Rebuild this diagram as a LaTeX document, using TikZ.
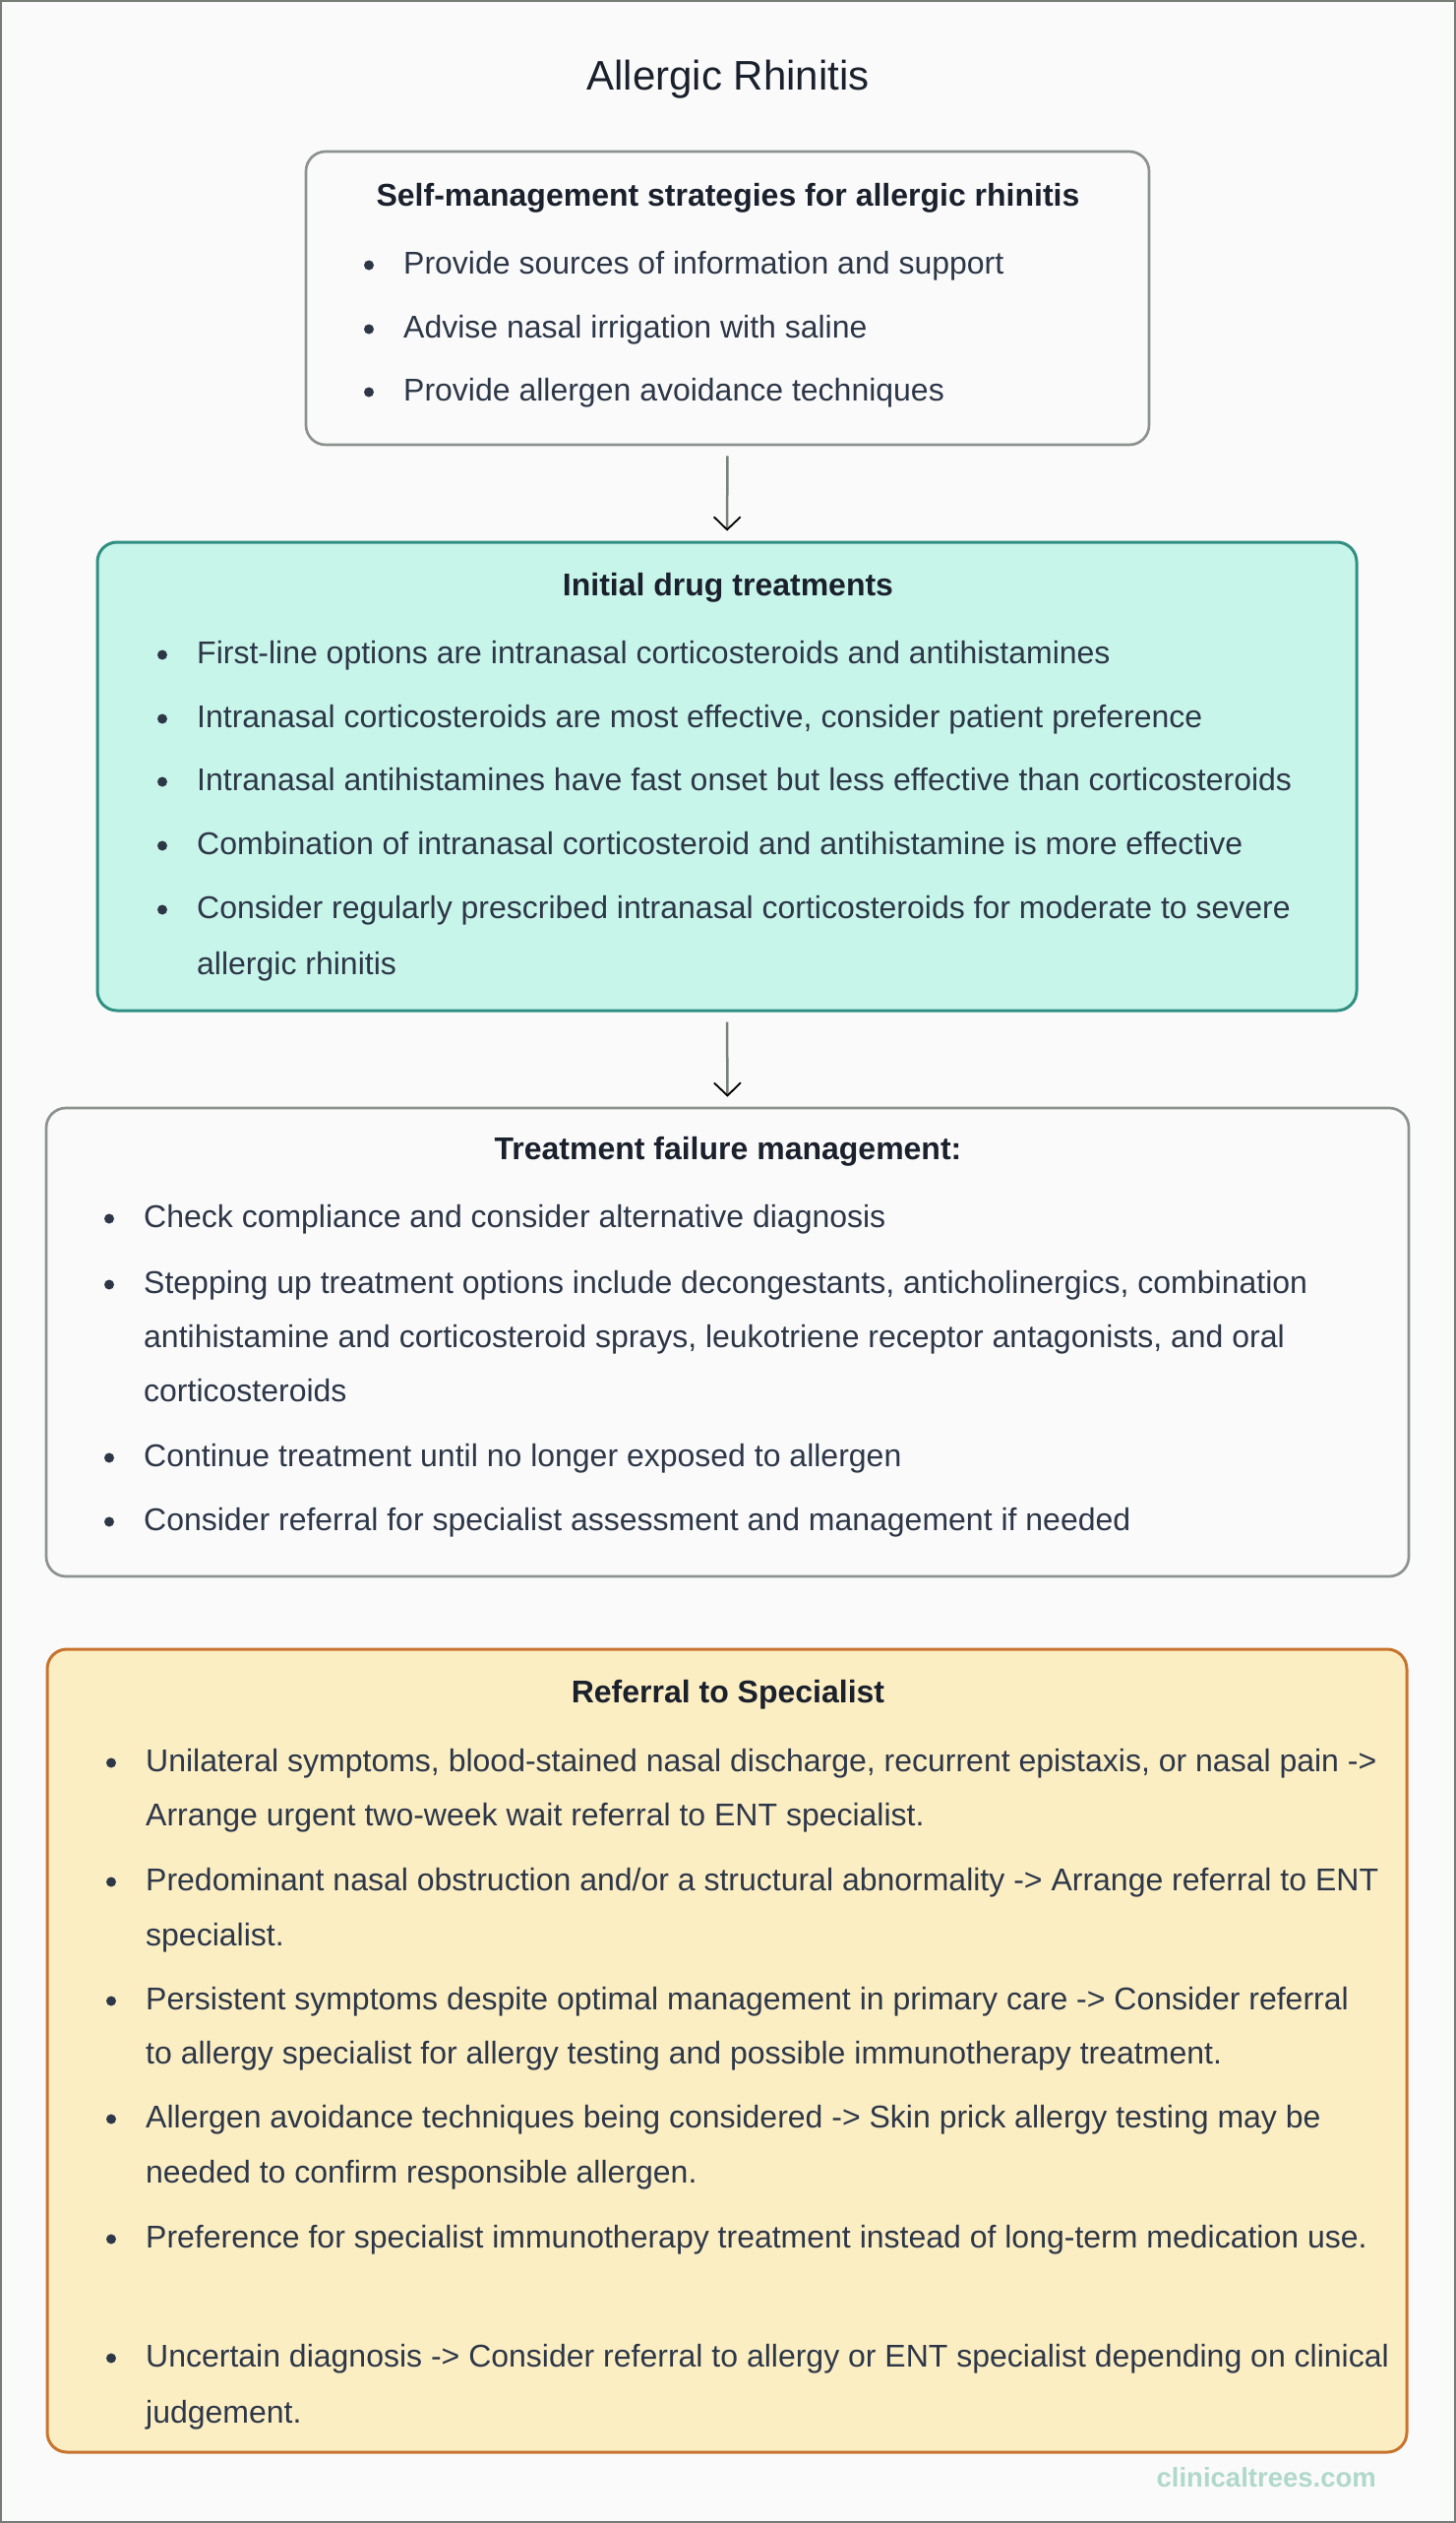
\documentclass[tikz,border=0pt]{standalone}
\usepackage{fontspec}
\setmainfont{Liberation Sans}
\usetikzlibrary{arrows.meta}
\definecolor{bgc}{HTML}{FAFAFA}
\definecolor{framec}{HTML}{777C77}
\definecolor{grayb}{HTML}{8C928E}
\definecolor{tealb}{HTML}{2F8F83}
\definecolor{tealf}{HTML}{C8F5EA}
\definecolor{orb}{HTML}{C8742E}
\definecolor{orf}{HTML}{FCEEC3}
\definecolor{txtc}{HTML}{2D3748}
\definecolor{headc}{HTML}{1A202C}
\definecolor{wmc}{HTML}{B0D8CC}
\definecolor{linec}{HTML}{7A807A}
\newcommand{\bitem}[5]{\node[bdot] (#1d) at (#2,#4+1.5) {}; \node[txt] (#1) at (#3,#4+10) {#5};}
\newcommand{\contl}[4]{\node[txt] (#1) at (#2,#3+10) {#4};}
\begin{document}
\begin{tikzpicture}[x=1pt,y=-1pt,
  boxbase/.style={rectangle, rounded corners=20pt, inner sep=0pt},
  graybox/.style={boxbase, draw=grayb, fill=bgc, line width=2.7pt},
  tealbox/.style={boxbase, draw=tealb, fill=tealf, line width=3pt},
  orbox/.style={boxbase, draw=orb, fill=orf, line width=3pt},
  txt/.style={anchor=base west, inner sep=0pt, text=txtc, font=\fontsize{32}{38}\selectfont},
  head/.style={anchor=base, inner sep=0pt, text=headc, font=\fontsize{32}{38}\selectfont\bfseries},
  bdot/.style={circle, fill=txtc, inner sep=0pt, minimum size=10pt},
  flow/.style={draw=linec, line width=2.5pt, shorten <=10pt, shorten >=10pt,
    -{Straight Barb[length=13pt,width=27pt,line width=1.8pt,color=black]}}
]
\useasboundingbox (0,0) rectangle (1480,2564);
\fill[bgc] (0,0) rectangle (1480,2564);
\draw[framec, line width=2pt] (1,1) rectangle (1479,2563);

\node[anchor=base, inner sep=0pt, text=headc, font=\fontsize{42}{50}\selectfont] (title) at (740,77+15) {Allergic Rhinitis};

% Box 1
\node[graybox, minimum width=857pt, minimum height=298pt] (b1) at (739.5,303) {};
\node[head] (h1) at (740,199+10) {Self-management strategies for allergic rhinitis};
\bitem{a1}{375}{410}{268}{Provide sources of information and support}
\bitem{a2}{375}{410}{333}{Advise nasal irrigation with saline}
\bitem{a3}{375}{410}{397}{Provide allergen avoidance techniques}

% Box 2
\node[tealbox, minimum width=1280pt, minimum height=476pt] (b2) at (739,789) {};
\node[head] (h2) at (740,595+10) {Initial drug treatments};
\bitem{c1}{165}{200}{664}{First-line options are intranasal corticosteroids and antihistamines}
\bitem{c2}{165}{200}{729}{Intranasal corticosteroids are most effective, consider patient preference}
\bitem{c3}{165}{200}{793}{Intranasal antihistamines have fast onset but less effective than corticosteroids}
\bitem{c4}{165}{200}{858}{Combination of intranasal corticosteroid and antihistamine is more effective}
\bitem{c5}{165}{200}{923}{Consider regularly prescribed intranasal corticosteroids for moderate to severe}
\contl{c5b}{200}{980}{allergic rhinitis}

% Box 3
\node[graybox, minimum width=1385pt, minimum height=476pt] (b3) at (739.5,1364) {};
\node[head] (h3) at (740,1168+10) {Treatment failure management:};
\bitem{e1}{111}{146}{1237}{Check compliance and consider alternative diagnosis}
\bitem{e2}{111}{146}{1304}{Stepping up treatment options include decongestants, anticholinergics, combination}
\contl{e2b}{146}{1359}{antihistamine and corticosteroid sprays, leukotriene receptor antagonists, and oral}
\contl{e2c}{146}{1414}{corticosteroids}
\bitem{e3}{111}{146}{1480}{Continue treatment until no longer exposed to allergen}
\bitem{e4}{111}{146}{1545}{Consider referral for specialist assessment and management if needed}

% Box 4
\node[orbox, minimum width=1382pt, minimum height=816pt] (b4) at (739,2084) {};
\node[head] (h4) at (740,1720+10) {Referral to Specialist};
\bitem{r1}{113}{148}{1790}{Unilateral symptoms, blood-stained nasal discharge, recurrent epistaxis, or nasal pain ->}
\contl{r1b}{148}{1845}{Arrange urgent two-week wait referral to ENT specialist.}
\bitem{r2}{113}{148}{1911}{Predominant nasal obstruction and/or a structural abnormality -> Arrange referral to ENT}
\contl{r2b}{148}{1967}{specialist.}
\bitem{r3}{113}{148}{2032}{Persistent symptoms despite optimal management in primary care -> Consider referral}
\contl{r3b}{148}{2087}{to allergy specialist for allergy testing and possible immunotherapy treatment.}
\bitem{r4}{113}{148}{2152}{Allergen avoidance techniques being considered -> Skin prick allergy testing may be}
\contl{r4b}{148}{2208}{needed to confirm responsible allergen.}
\bitem{r5}{113}{148}{2274}{Preference for specialist immunotherapy treatment instead of long-term medication use.}
\bitem{r6}{113}{148}{2395}{Uncertain diagnosis -> Consider referral to allergy or ENT specialist depending on clinical}
\contl{r6b}{148}{2452}{judgement.}

\node[anchor=base east, inner sep=0pt, text=wmc, font=\fontsize{27.5}{32}\selectfont\bfseries] (wm) at (1399,2518+9) {clinicaltrees.com};

\draw[flow] (b1.south) -- (b2.north);
\draw[flow] (b2.south) -- (b3.north);
\end{tikzpicture}
\end{document}
